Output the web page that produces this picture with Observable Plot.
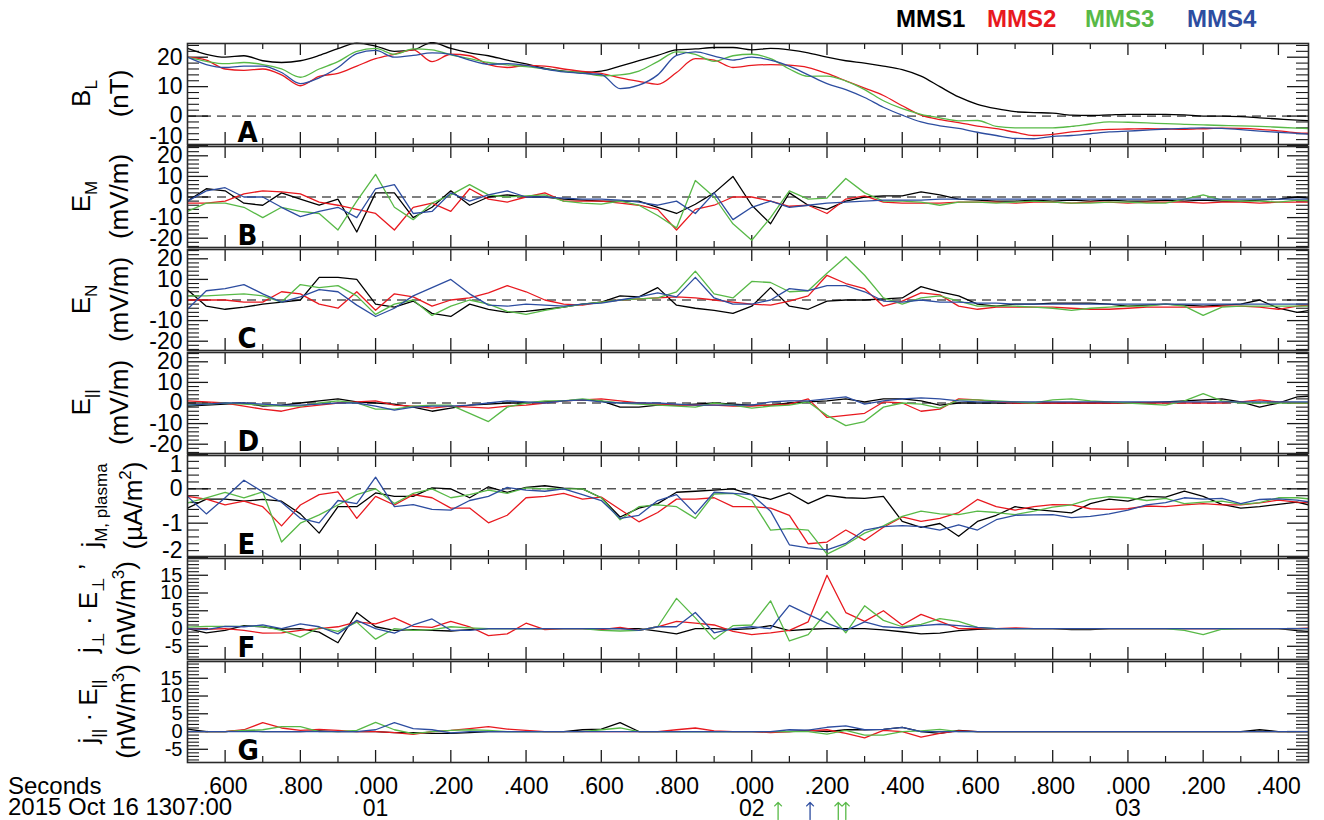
<!DOCTYPE html>
<html>
<head>
<meta charset="utf-8">
<script src="https://cdn.jsdelivr.net/npm/d3@7"></script>
<script src="https://cdn.jsdelivr.net/npm/@observablehq/plot@0.6"></script>
<style>
  body { margin: 0; background: #fff; }
  #chart { position: relative; width: 1324px; height: 820px; overflow: hidden; background: #fff;
           font-family: "Liberation Sans", Arial, Helvetica, sans-serif; }
  .legend { position: absolute; top: 7px; font-size: 24px; font-weight: bold; line-height: 1; }
  .panel { position: absolute; left: 0; }
</style>
</head>
<body>
<div id="chart"></div>
<script>
// Sample grid of the resampled series (seconds after 13:07:00 UT)
const t0 = 0.5, dt = 0.05;

// Spacecraft
const craft = ["MMS1", "MMS2", "MMS3", "MMS4"];
const craftColor = ["#000000", "#e8191f", "#58b947", "#2d4da0"];

// Panel A: B_L (nT)
const bL_mms1 = [23, 21, 20, 20.5, 18.8, 18.2, 18.8, 20.6, 22.9, 24.8,
  23.8, 22, 22.5, 25, 23, 21.5, 20.5, 19, 17.7, 16.2,
  15.3, 14.9, 15.3, 17, 18.8, 20.6, 22.5, 22.8, 23.3, 23.3,
  22.5, 23, 22.5, 21.5, 20, 18.8, 18, 17, 15.8, 13.6,
  10, 6.5, 4, 2.5, 1.5, 1.2, 1, 0.3, 0.2, 0.4,
  0.6, 0.6, 0.6, 0.4, 0, 0, -0.2, -0.6, -1, -1.4, -1.7];
const bL_mms2 = [20, 19, 16, 15.5, 16, 14, 10.3, 13.5, 14.5, 17,
  19.5, 21, 22.5, 18.5, 21, 20.5, 17.5, 16.5, 17.2, 17,
  16, 15.2, 14.5, 13, 11.8, 10.8, 14.8, 19.5, 19, 16.5,
  17.2, 17.5, 17.3, 16.5, 14.5, 12, 9.5, 7, 3.5, 0.3,
  -1.2, -2.2, -3.4, -4.3, -5.5, -6.6, -6.2, -5.4, -4.9, -4.5,
  -4.4, -4.3, -4.4, -4.5, -4.3, -4.1, -4.2, -4.5, -5, -5.7, -5.9];
const bL_mms3 = [20, 18.6, 17.8, 18.2, 17.5, 16, 13.2, 16, 18.5, 22,
  23, 21, 22.8, 22.5, 20.8, 19.5, 18.2, 17.4, 16.8, 16,
  15.2, 14.7, 13.7, 14, 15.3, 18.5, 21.8, 21, 18.6, 20.5,
  21, 19.5, 16, 13.5, 13.6, 11.9, 9, 5.2, 2.5, 0.6,
  -0.6, -1.6, -1.5, -3.5, -4, -4, -4, -3.5, -2.7, -2,
  -2.1, -2.3, -2.6, -2.8, -3, -3.2, -3.3, -3.5, -3.8, -4.1, -4.3];
const bL_mms4 = [20, 17.5, 16.5, 17, 17, 14.8, 11, 13, 16.5, 21.2,
  22.3, 20, 20.6, 21.5, 21, 19, 17.6, 17.8, 17.2, 16,
  15, 14.5, 14.1, 9.3, 10.5, 14, 20.6, 21.8, 20.4, 19,
  20, 19, 17, 14, 11, 9, 6.3, 3, 0.3, -2,
  -3.3, -4.2, -5.5, -6.6, -7.6, -7.7, -6.9, -6.6, -6, -5.4,
  -5.1, -4.8, -4.4, -4.2, -4, -4.2, -4.6, -5.1, -5.5, -5.9, -6.3];

// Panel B: E_M (mV/m)
const eM_mms1 = [-2, 4, 3, -3, -4, 2, -1, -4, -1, -17,
  2, 2, -10, -5, 3, -4, 0, 1, 0, 0,
  -1, -1.5, -2, -2, -2, -5, -8, -3.5, 2, 10,
  -4, -13, 2, -4, -6, -2, 0, 0.5, 0.5, 2.5,
  1, -1, -1.5, -2, -2, -1.5, -2, -1.5, -2, -1.5,
  -2, -2, -1.5, -2, -1.5, -2, -2, -1.5, -1, 0, -1];
const eM_mms2 = [-3, -3, -2, 1.5, 3, 2.5, 1.5, -2.5, -4, -6,
  -8, -16, -5, -3, -7, 4, -1, -2.5, 0, 2,
  -2, -2, -2, -3, -4, -6, -16, -6, -4, 0,
  0, -2, -4.5, -4, -8, -1, 0.5, -2.5, -3, -3,
  -3, -2.5, -2.5, -2.5, -3, -2.5, -2.5, -3, -2.5, -2.5,
  -3, -2.5, -2.5, -2.5, -3, -2.5, -2.5, -3, -2.5, -2.5, -2.5];
const eM_mms3 = [-7, -3, -3, -5, -10, -5, -7, -8, -16, -2,
  11, -5, -11, -3, 1, 6, 1, 0, 0.5, 1,
  -2, -3, -3.5, -2, -4, -9, -15, 8, 0, -13,
  -21, -10, 3, -1, -0.5, 9, 2, -2, -2, -2.5,
  -4, -2.5, -2.5, -3, -2.5, -2, -2.5, -3, -3, -2.5,
  -2.5, -3, -3, -1, 1, -1.5, -2, -2, -2.5, -1.5, -2];
const eM_mms4 = [-2, 3, 4.5, 0, 0, -5, -9.5, -7, -5, -10,
  4, 6, -8, -7, 2, -2, 1, 3, 0, 0,
  -0.5, -1, -1, -1.5, -2.5, -4, -2, -8, 2, -11,
  -5, -2, -5, -4, -3, -2.5, -2, -1.5, -1.5, -1.5,
  -1, -1, -1, -1, -1, -1, -1, -1, -1, -1,
  -1, -1, -1, -1, -1, -1, -1, -1, -1, -1, -1];

// Panel C: E_N (mV/m)
const eN_mms1 = [5, -3, -4.5, -3.5, -2, -1, 0, 11, 11, 10,
  -2, -3.5, -0.5, -6.5, -8, -2, -4.5, -6, -5.5, -4.5,
  -3.5, -2, -1, 2, 1.5, 6, -2.5, -4, -5, -6.5,
  -3, 6, -3, -4.5, -0.5, 0, 0, 0.5, 1, 6.5,
  4, 2, -2, -3, -2, -2, -1.5, -1.5, -1.5, -2,
  -3, -2.5, -2, -2.5, -3, -2.5, -2, 0, -4, -6, -4.5];
const eN_mms2 = [0, 0, 0, -1, -1, 4, 3, -2, -4, 4,
  -5, 3, 1.5, -3, 0, 1, 3.5, 7, 4, 0,
  -2, -2.5, -1, 0, 0.5, 1, 1.5, 1, 0, -1,
  -2, -2.5, -0.5, 2, 12, 8, 5.5, -3, -0.5, 3.5,
  2.5, -3, -4.5, -3.5, -3.5, -3.5, -3.5, -4, -4.5, -4.5,
  -4, -3.5, -3.5, -3.5, -3.5, -3, -3, -3.5, -4.5, -3, -2];
const eN_mms3 = [2, 2, 2.5, 3, 2, -1, 7.5, 6, 7, 2,
  -7, -2, 0, -7.5, -3, 0, -2, -5.5, -7, -5,
  -3.5, -2, -1, 0, 0.5, 1, 4, 14, 3, 1,
  9, 8.5, 4, 4.5, 13, 21, 12, 1, -2, 1,
  2, -0.5, -3, -3, -3, -3.5, -4, -5, -4, -3.5,
  -3, -3, -2, -3, -7.5, -3.5, -3, -3, -3, -3, -3];
const eN_mms4 = [-4.5, 4.5, 5.5, 7.5, 3, -1, 1.5, 5, 4, -2.5,
  -8, -4, 2, 6, 10, 3, -2.5, -3, -2, -2.5,
  -3, -2, -1.5, 0, 1.5, 3.5, 1.5, 11, 1, -2,
  -2, 0, 5.5, 4.5, 7, 7, 4, -0.5, -1, 0,
  -1, -1, -1.5, -1.5, -2, -2, -2, -2, -2, -2,
  -2, -2, -2, -2, -2, -2, -2, -2, -2, -2, -2];

// Panel D: E_parallel (mV/m)
const ePar_mms1 = [-1.5, -1, -0.5, 0, -1.5, -1, 0, 1, 2, 0.5,
  0, -0.5, -2, -4, -2.5, -1, -0.5, 0, 0, 0.5,
  1, 1.5, 1, -2, -2, -1, -1, -0.5, 0, -0.5,
  -1, -1, 0, 0.5, 1, 2, 0.5, 2, 2, 1,
  -1, 0, 0, 0, 0, 0, 0, 0, 0, 0,
  0, 0, 0.5, 1, 1.5, 2, 0.5, -2, 0, 3, 3.5];
const ePar_mms2 = [1, 0.5, 0, -1.5, -3, -4, -2, -1, 0, 0.5,
  1, -1, -1.5, -2.5, -1.5, -2, -2.5, -1.5, -1, 0,
  1, 1.5, 2, 1, 0, -0.5, -1, -1, -1, -1.5,
  -1.5, -1, -0.5, 2, -7, -6, -5, 0.5, 0, -4,
  -3, 2, 1.5, 0.5, 0, 0, 0, 0, 0, 0,
  0, 0, 0, 0, 0, 0, 0.5, 1.5, 0.5, 0, 0];
const ePar_mms3 = [-1, -0.5, 0, -0.5, -1, -1.5, -1.5, 0, 1, 0,
  -3, -3, -1.5, -1, -1, -5, -9, -2, 0, 1,
  1, 2, 1, 0, -0.5, -1, -1.5, -2, 0, -1,
  -2.5, -1.5, -1, 0.5, -6, -11, -9, -2, 0, -0.5,
  -2.5, 1.5, 1.5, 1, 0.5, 0, 1.5, 2, 1, 0.5,
  0, -0.5, -1, 1, 4.5, 1, 0, 0, 0, 0, 0];
const ePar_mms4 = [-1, -0.5, 0, 0, -0.5, -1, -1, -0.5, 0, 0,
  -1.5, -3.5, -2, -1.5, -1.5, -1, 0, 1, 0.5, 0,
  1, 1.5, 0.5, 0, 0, 0, -0.5, -1, -1, -1,
  -1, 0.5, 1, 1, 2, 3, -0.5, 1, 2, 2.5,
  2, 1, 0.5, 0.5, 0.5, 0.5, 0.5, 0.5, 0.5, 0.5,
  0.5, 0.5, 0.5, 0.5, 0.5, 0.5, 0.5, 0.5, 0.5, 0.5, 0.5];

// Panel E: j_M,plasma (uA/m^2)
const jM_mms1 = [-0.56, -0.3, -0.3, -0.36, -0.31, -0.36, -0.73, -1.29, -0.52, -0.52,
  -0.12, -0.22, -0.22, 0.03, 0, -0.26, 0.06, -0.1, 0.04, 0.09,
  0.02, 0, -0.26, -0.82, -0.56, -0.43, -0.1, -0.07, -0.04, 0,
  -0.17, -0.31, -0.12, -0.43, -0.19, -0.26, -0.28, -0.22, -0.95, -1.12,
  -1.01, -1.38, -0.95, -0.77, -0.52, -0.6, -0.65, -0.7, -0.43, -0.3,
  -0.36, -0.22, -0.24, -0.07, -0.22, -0.45, -0.56, -0.52, -0.45, -0.39, -0.52];
const jM_mms2 = [-0.22, -0.3, -0.47, -0.36, -0.52, -1.08, -0.47, -0.17, -0.09, -0.86,
  -0.22, -0.47, -0.17, -0.26, -0.56, -0.56, -0.99, -0.77, -0.26, -0.22,
  -0.13, -0.3, -0.24, -0.6, -0.96, -0.69, -0.3, -0.3, -0.26, -0.52,
  -0.52, -0.56, -0.77, -1.6, -1.55, -1.2, -1.5, -1.12, -0.82, -0.95,
  -0.86, -0.69, -0.31, -0.52, -0.62, -0.52, -0.46, -0.47, -0.58, -0.6,
  -0.58, -0.5, -0.52, -0.47, -0.43, -0.47, -0.47, -0.41, -0.33, -0.39, -0.41];
const jM_mms3 = [-0.41, -0.26, -0.1, -0.26, -0.09, -1.55, -1.0, -0.76, -0.47, -0.17,
  0, -0.43, -0.13, 0, -0.26, -0.17, -0.04, -0.13, 0.03, 0,
  0, 0, -0.26, -0.9, -0.52, -0.47, -0.52, -0.86, -0.15, -0.13,
  -0.34, -1.2, -1.16, -1.2, -1.9, -1.63, -1.29, -1.08, -0.8, -0.65,
  -0.73, -0.75, -0.65, -0.69, -0.75, -0.65, -0.53, -0.47, -0.3, -0.23,
  -0.26, -0.34, -0.28, -0.43, -0.39, -0.36, -0.45, -0.4, -0.26, -0.26, -0.31];
const jM_mms4 = [-0.22, -0.73, -0.26, 0.25, -0.09, -0.39, -0.86, -0.99, -0.34, -0.43,
  0.34, -0.52, -0.46, -0.6, -0.62, -0.34, -0.22, 0.04, -0.04, -0.07,
  0, -0.17, -0.34, -0.86, -0.77, -0.34, -0.17, -0.73, -0.1, -0.13,
  -0.17, -0.65, -1.63, -1.72, -1.78, -1.59, -1.2, -1.1, -1.07, -1.1,
  -1.2, -1.05, -1.2, -0.9, -0.77, -0.76, -0.75, -0.84, -0.8, -0.73,
  -0.62, -0.47, -0.4, -0.26, -0.3, -0.28, -0.43, -0.31, -0.29, -0.33, -0.41];

// Panel F: j_perp . E_perp' (nW/m^3)
const jEperp_mms1 = [0, -1.2, -0.5, 0.8, 0.5, -0.2, 0, -1, -4, 4.5,
  0.5, -0.5, -0.3, -0.5, -0.7, -0.3, 0, 0, 0, 0,
  0, 0, 0, 0, 0, -0.7, -1.5, 0, 0, -0.3,
  0, 0.8, -0.6, -0.2, 0, 0, 0, -0.4, -0.9, -1.5,
  -1.3, -0.6, -0.2, 0, 0, 0, 0, -0.3, -0.3, 0,
  0, 0, 0, 0, 0, 0, 0, 0, 0, -0.6, -0.9];
const jEperp_mms2 = [0, -0.2, 0, -0.5, -1.3, -1.2, -0.5, 0, 0.5, 1.9,
  1.3, 3, 0.6, 0.3, 2, 0.5, -2, -1.5, 1.5, -0.3,
  0, 0, -0.3, 0.3, -0.5, 0.5, 2, 1.5, 1, -0.8,
  -1.7, -1.2, -0.5, 1.9, 15, 4.5, 2, 5, 1, 4,
  2, 0, 0, 0, 0.2, 0, 0, 0, 0, 0,
  0, 0, 0, 0, 0, 0, 0, 0, 0, 0, 0.2];
const jEperp_mms3 = [0.4, 0.6, 0.6, 0.6, 0.6, -0.5, -2.4, 0.3, -0.8, 1.8,
  -3, 0, -0.5, -0.3, 0.5, 0.2, 0, 0, 0, 0,
  0, 0, -0.5, -0.7, -0.5, 0.5, 8.5, 3, -3, 0.8,
  1, 7.8, -3.5, -1.7, 4.8, -1.2, 6.4, 2.3, 0.5, 1.2,
  2.8, 2, 0.3, 0, 0, 0, 0, 0, 0, 0,
  0, 0, 0, -0.5, -1.7, -0.2, 0, 0, 0, 0, 0];
const jEperp_mms4 = [0, -0.3, 0.6, 0.5, 1, 0, 1.3, 0.5, -1.5, 2.3,
  0, -1.3, 1, 2.7, -0.5, -0.5, 0, 0, 0, 0,
  0, 0, 0, 0, -0.5, 0.5, 0.5, 4.5, -1.2, 0,
  0.5, 0, 6.5, 4, 1.5, -0.5, 1.9, 0.5, 0.2, 0.8,
  1.2, 0.8, 0.3, 0, 0, 0, 0, 0, 0, 0,
  0, 0, 0, 0, 0, 0, 0, 0, 0, 0, 0];

// Panel G: j_par . E_par (nW/m^3)
const jEpar_mms1 = [0.7, 0, 0, 0.3, 0, 0, 0, 0.2, 0, 0,
  0, -0.3, -0.3, -0.5, -0.5, -0.3, 0, 0, 0, 0,
  0, 0.5, 0.7, 2.5, 0, 0, 0, 0, 0, 0,
  0, 0, 0, 0.3, 0, 0.5, 0.5, 0.6, 1.2, 0,
  -0.5, 0.3, 0, 0, 0, 0, 0, 0, 0, 0,
  0, 0, 0, 0, 0, 0, 0, 0.5, 0, 0, 0];
const jEpar_mms2 = [0, 0, 0, 0.5, 2.5, 1, 0.3, 0.6, 0.3, 0,
  0, -0.3, -0.8, 0, 0.3, 0.8, 1.4, 0.7, 0.3, 0,
  0, 0, 0, 0, 0, 0, 0.5, 1, 0.2, 0,
  0, -0.3, 0, 0.2, 0.5, -0.5, -1.8, 0.3, 0, -1.6,
  -0.5, 0.2, 0, 0, 0, 0, 0, 0, 0, 0,
  0, 0, 0, 0, 0, 0, 0, 0, 0, 0, 0];
const jEpar_mms3 = [0, 0, 0, 0.3, 0.5, 1.4, 1.4, 0, 0, 0.3,
  2.6, 0.5, -0.6, 0, 0.3, 0.5, 0.3, 0, 0, 0,
  0, 0, 0.5, 1, 0, 0, 0, 0, 0, 0,
  0, 0, 0, 0, -0.7, 0.3, -1, -1, 0, 0.2,
  0.6, 0, 0, 0, 0, 0, 0, 0, 0, 0,
  0, 0, 0, 0, 0, 0, 0, 0, 0, 0, 0];
const jEpar_mms4 = [0, 0, 0, 0, 0, 0, 0, 0, 0, 0,
  0.5, 2.5, 0.8, 0.5, -0.4, 0, 0, 0, 0, 0,
  0, 0, 0, 0, 0, 0, 0, 0, 0, 0,
  0, 0, 0.5, 0.4, 1.2, 1.6, 0.5, 0.6, 1.2, 0,
  0, 0, 0, 0, 0, 0, 0, 0, 0, 0,
  0, 0, 0, 0, 0, 0, 0, 0, 0, 0, 0];

// Marked instants below the time axis
const arrowTimes = [2.07, 2.155, 2.23, 2.25];
const arrowCraft = ["MMS3", "MMS4", "MMS3", "MMS3"];

// Time axis: labelled ticks every 0.2 s, minor ticks every 0.1 s
const xDomain = [0.5, 3.48];
const xMajor = d3.range(3, 18).map(i => i / 5);
const xMinor = d3.range(7, 34, 2).map(i => i / 10);

const times = d3.range(bL_mms1.length).map(i => Math.round((t0 + i * dt) * 1000) / 1000);

const panels = [
  {id: "A", series: [bL_mms1, bL_mms2, bL_mms3, bL_mms4], domain: [-10, 25], major: [-10, 0, 10, 20], minorStep: 2,
   zero: true, smooth: true, nudge: {"-10": -9}, labelSize: 23,
   name: [["B"], ["L", "sub"]], unit: [["(nT)"]], nameX: 90, unitX: 128},
  {id: "B", series: [eM_mms1, eM_mms2, eM_mms3, eM_mms4], domain: [-25, 25], major: [-20, -10, 0, 10, 20], minorStep: 2,
   zero: true, nudge: {}, labelSize: 23,
   name: [["E"], ["M", "sub"]], unit: [["(mV/m)"]], nameX: 90, unitX: 128},
  {id: "C", series: [eN_mms1, eN_mms2, eN_mms3, eN_mms4], domain: [-25, 25], major: [-20, -10, 0, 10, 20], minorStep: 2,
   zero: true, nudge: {}, labelSize: 23,
   name: [["E"], ["N", "sub"]], unit: [["(mV/m)"]], nameX: 90, unitX: 128},
  {id: "D", series: [ePar_mms1, ePar_mms2, ePar_mms3, ePar_mms4], domain: [-25, 25], major: [-20, -10, 0, 10, 20], minorStep: 2,
   zero: true, nudge: {}, labelSize: 23,
   name: [["E"], ["||", "sub"]], unit: [["(mV/m)"]], nameX: 90, unitX: 128},
  {id: "E", series: [jM_mms1, jM_mms2, jM_mms3, jM_mms4], domain: [-2, 1], major: [-2, -1, 0, 1], minorStep: 0.2,
   zero: true, nudge: {"1": 10, "-2": -7}, labelSize: 23,
   name: [["j"], ["M, plasma", "sub"]], unit: [["(\u00b5A/m"], ["2", "sup"], [")"]], nameX: 100, unitX: 142},
  {id: "F", series: [jEperp_mms1, jEperp_mms2, jEperp_mms3, jEperp_mms4], domain: [-9, 20], major: [-5, 0, 5, 10, 15], minorStep: 1,
   zero: false, nudge: {}, labelSize: 20,
   name: [["j"], ["\u22a5", "sub"], ["\u00a0\u00b7\u00a0E"], ["\u22a5", "sub"], ["\u00a0\u2019"]], unit: [["(nW/m"], ["3", "sup"], [")"]], nameX: 97, unitX: 135},
  {id: "G", series: [jEpar_mms1, jEpar_mms2, jEpar_mms3, jEpar_mms4], domain: [-9, 20], major: [-5, 0, 5, 10, 15], minorStep: 1,
   zero: false, nudge: {}, labelSize: 20,
   name: [["j"], ["||", "sub"], ["\u00a0\u00b7\u00a0E"], ["||", "sub"]], unit: [["(nW/m"], ["3", "sup"], [")"]], nameX: 97, unitX: 135}
];

const WIDTH = 1324, ML = 187, MR = 16, PH = 103, TOP = 42, BOTTOM_EXTRA = 57;
const innerW = WIDTH - ML - MR;
const ink = "#1a1a1a";
const font = "'Liberation Sans', Arial, Helvetica, sans-serif";

function fracLabel(t) {
  const ms = Math.round(t * 1000) % 1000;
  return "." + String(ms).padStart(3, "0");
}

function addTitle(svg, segs, x, yc) {
  const text = d3.select(svg).append("text")
    .attr("transform", `translate(${x},${yc}) rotate(-90)`)
    .attr("text-anchor", "middle")
    .attr("fill", "#000")
    .attr("font-family", font)
    .attr("font-size", 26);
  let shift = 0;
  for (const [s, mode] of segs) {
    const target = mode === "sub" ? 7 : mode === "sup" ? -11 : 0;
    text.append("tspan")
      .attr("dy", target - shift)
      .attr("font-size", mode ? 17 : 26)
      .text(s);
    shift = target;
  }
}

const chart = document.getElementById("chart");

// legend
const legendX = [896, 987, 1085, 1187];
craft.forEach((c, i) => {
  const el = document.createElement("div");
  el.className = "legend";
  el.style.left = legendX[i] + "px";
  el.style.color = craftColor[i];
  el.textContent = c;
  chart.appendChild(el);
});

panels.forEach((p, i) => {
  const last = i === panels.length - 1;
  const height = PH + (last ? BOTTOM_EXTRA : 0);
  const [y0, y1] = p.domain;
  const minor = d3.range(Math.ceil(y0 / p.minorStep), Math.floor(y1 / p.minorStep) + 1)
    .map(k => +(k * p.minorStep).toFixed(3))
    .filter(v => !p.major.some(m => Math.abs(m - v) < 1e-6) && v > y0 && v < y1);

  const marks = [];
  // x ticks inside the frame, top and bottom
  marks.push(Plot.ruleX(xMajor, {x: d => d, insetTop: 1, insetBottom: PH - 1 - 12, stroke: ink, strokeWidth: 1.3}));
  marks.push(Plot.ruleX(xMajor, {x: d => d, insetBottom: 1, insetTop: PH - 1 - 12, stroke: ink, strokeWidth: 1.3}));
  marks.push(Plot.ruleX(xMinor, {x: d => d, insetTop: 1, insetBottom: PH - 1 - 6, stroke: ink, strokeWidth: 1.2}));
  marks.push(Plot.ruleX(xMinor, {x: d => d, insetBottom: 1, insetTop: PH - 1 - 6, stroke: ink, strokeWidth: 1.2}));
  // y ticks inside the frame, left and right
  marks.push(Plot.ruleY(p.major, {y: d => d, insetRight: innerW - 21, stroke: ink, strokeWidth: 1.3}));
  marks.push(Plot.ruleY(p.major, {y: d => d, insetLeft: innerW - 21, stroke: ink, strokeWidth: 1.3}));
  marks.push(Plot.ruleY(minor, {y: d => d, insetRight: innerW - 12, stroke: ink, strokeWidth: 1.1}));
  marks.push(Plot.ruleY(minor, {y: d => d, insetLeft: innerW - 12, stroke: ink, strokeWidth: 1.1}));
  // y tick labels
  p.major.forEach(v => {
    marks.push(Plot.text([v], {y: d => d, text: d => String(d), frameAnchor: "left", dx: -5,
      dy: p.nudge[String(v)] || 0, textAnchor: "end", fontSize: p.labelSize, fill: "#000"}));
  });
  if (p.zero) marks.push(Plot.ruleY([0], {stroke: "#000", strokeWidth: 1, strokeDasharray: "9,6"}));
  // the four spacecraft
  p.series.forEach((vals, k) => {
    marks.push(Plot.line(vals, {x: (d, j) => times[j], y: d => d, stroke: craftColor[k], strokeWidth: 1.3,
      curve: p.smooth ? "monotone-x" : "linear", clip: "frame"}));
  });
  marks.push(Plot.frame({stroke: "#2a2a2a", strokeWidth: 1.6, insetTop: 1, insetBottom: 1}));
  // panel letter
  marks.push(Plot.text([p.id], {text: d => d, frameAnchor: "bottom-left", dx: 50, dy: -4, lineAnchor: "bottom",
    textAnchor: "start", fontSize: 29, fontWeight: "bold", fill: "#000",
    fontFamily: "'Liberation Sans Narrow', 'DejaVu Sans Condensed', sans-serif"}));

  if (last) {
    marks.push(Plot.text(xMajor, {x: d => d, text: fracLabel, frameAnchor: "bottom", dy: 23,
      lineAnchor: "middle", fontSize: 23, fill: "#000"}));
    marks.push(Plot.text(xMajor.filter(t => Math.round(t * 1000) % 1000 === 0), {x: d => d,
      text: d => String(Math.round(d)).padStart(2, "0"), frameAnchor: "bottom", dy: 45,
      lineAnchor: "middle", fontSize: 23, fill: "#000"}));
    craft.forEach((c, k) => {
      const ts = arrowTimes.filter((t, j) => arrowCraft[j] === c);
      if (ts.length) marks.push(Plot.vector(ts, {x: d => d, frameAnchor: "bottom", dy: 56, length: 17,
        rotate: 0, anchor: "start", stroke: craftColor[k], strokeWidth: 1.3}));
    });
  }

  const svg = Plot.plot({
    width: WIDTH, height,
    marginLeft: ML, marginRight: MR, marginTop: 0, marginBottom: last ? BOTTOM_EXTRA : 0,
    x: {domain: xDomain, axis: null},
    y: {domain: p.domain, axis: null},
    style: {fontFamily: font, fontSize: "22px", background: "transparent", overflow: "visible"},
    marks
  });

  addTitle(svg, p.name, p.nameX, PH / 2);
  addTitle(svg, p.unit, p.unitX, PH / 2);

  if (last) {
    const s = d3.select(svg);
    s.append("text").attr("x", 8).attr("y", 134).attr("text-anchor", "start")
      .attr("font-size", 24).attr("fill", "#000").text("Seconds");
    s.append("text").attr("x", 8).attr("y", 155).attr("text-anchor", "start")
      .attr("font-size", 24).attr("fill", "#000").text("2015 Oct 16 1307:00");
  }

  const wrap = document.createElement("div");
  wrap.className = "panel";
  wrap.style.top = (TOP + i * PH) + "px";
  wrap.appendChild(svg);
  chart.appendChild(wrap);
});
</script>
</body>
</html>
